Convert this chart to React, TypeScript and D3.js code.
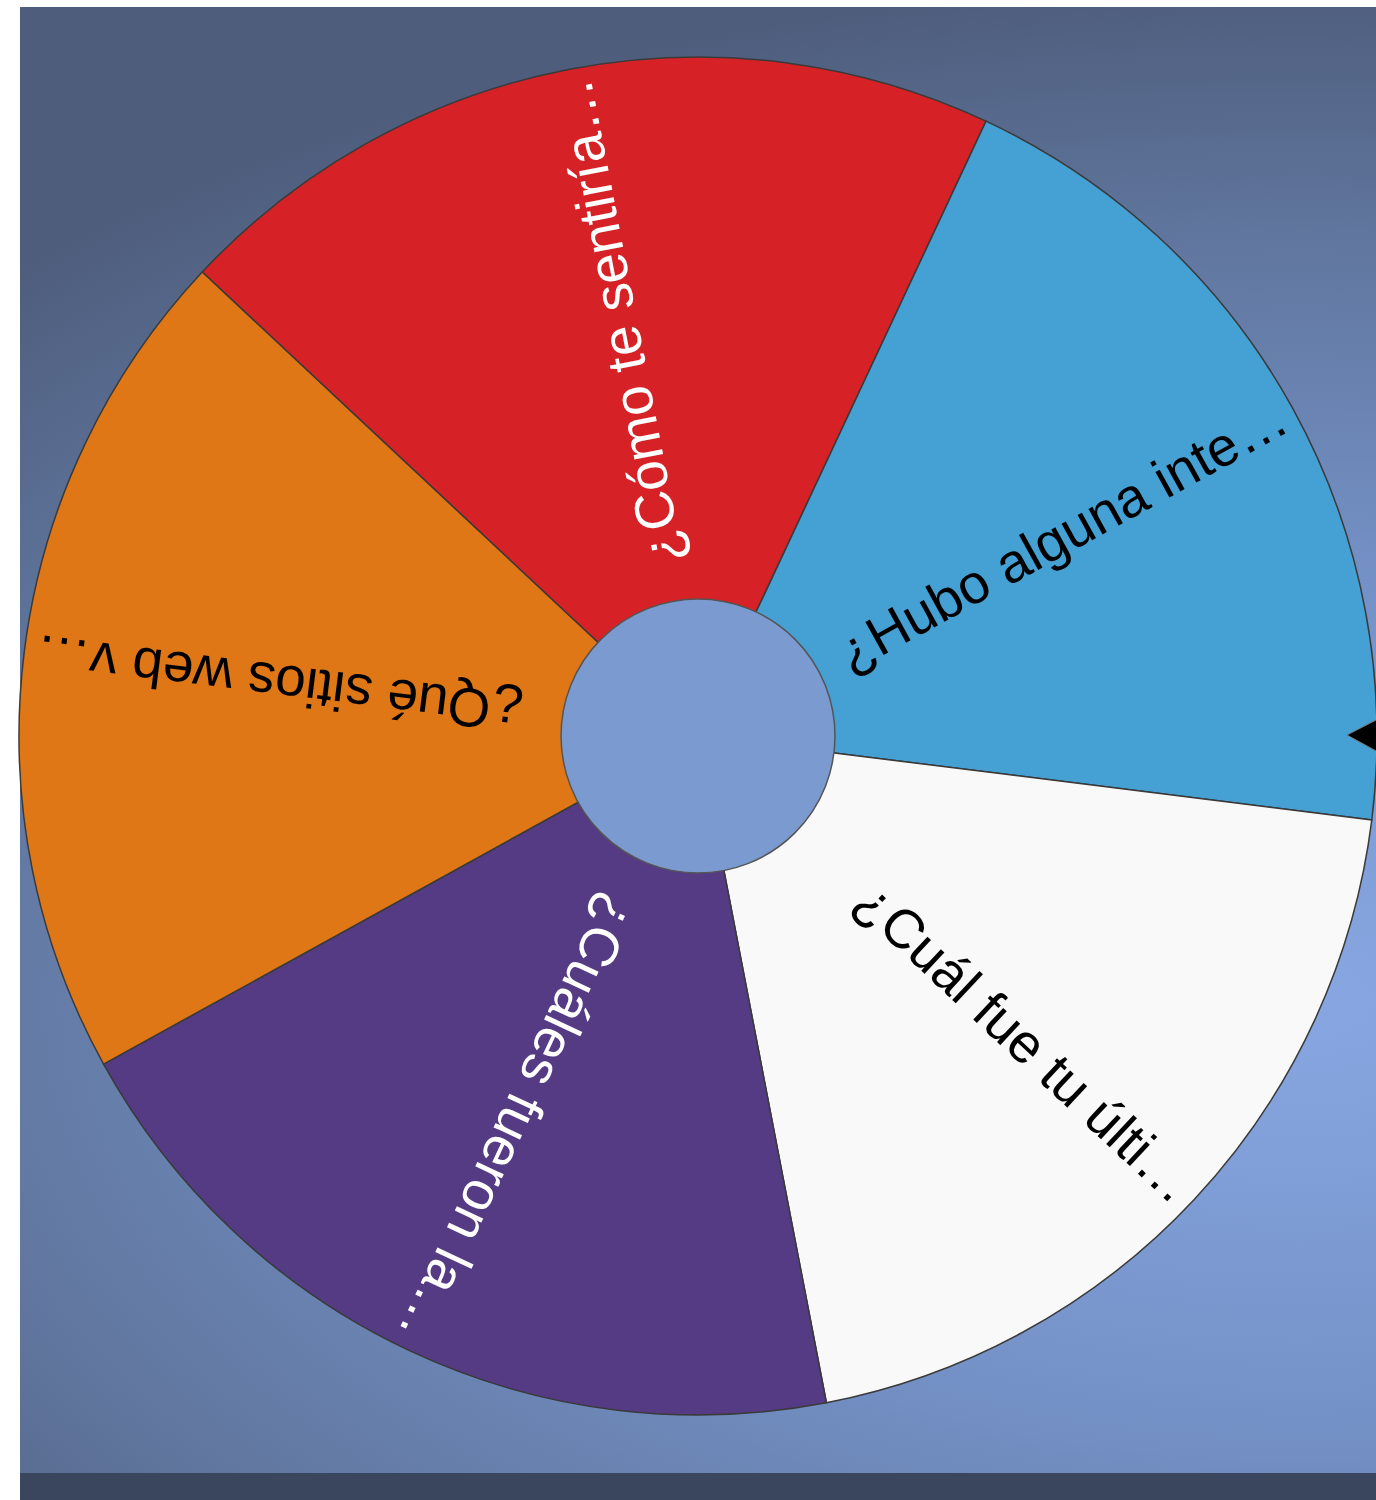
import * as d3 from "d3";

// wheel segments, clockwise from the red one
const questions = [
  "¿Cómo te sentiría…",
  "¿Hubo alguna inte…",
  "¿Cuál fue tu últi…",
  "¿Cuáles fueron la…",
  "¿Qué sitios web v…",
];
const weights = [1, 1, 1, 1, 1];
const fills = ["#d62226", "#45a0d3", "#f9f9f9", "#553b84", "#e07716"];
const textFills = ["#ffffff", "#000000", "#000000", "#ffffff", "#000000"];

const W = 1376;
const H = 1500;
const cx = 698;
const cy = 736;
const outerR = 679;
const hubR = 137;
const labelR = 668;
const startDeg = -46.9;

const App = () => {
  const start = (startDeg * Math.PI) / 180;
  const pie = d3
    .pie<number>()
    .sort(null)
    .value((d) => d)
    .startAngle(start)
    .endAngle(start + 2 * Math.PI);
  const arcs = pie(weights);
  const arc = d3.arc<d3.PieArcDatum<number>>().innerRadius(0).outerRadius(outerR);

  return (
    <svg
      width={W}
      height={H}
      style={{ position: "absolute", left: 0, top: 0, display: "block" }}
    >
      <defs>
        <radialGradient
          id="bg"
          gradientUnits="userSpaceOnUse"
          cx={1300}
          cy={1000}
          r={1850}
          gradientTransform="translate(1300,1000) scale(1,0.55) translate(-1300,-1000)"
        >
          <stop offset="0" stopColor="#88a7e2" />
          <stop offset="0.4" stopColor="#7592c8" />
          <stop offset="0.75" stopColor="#60769e" />
          <stop offset="1" stopColor="#4e5d7c" />
        </radialGradient>
      </defs>
      <rect x={0} y={0} width={W} height={H} fill="#ffffff" />
      <rect x={20} y={7} width={W - 20} height={H - 7} fill="url(#bg)" />
      <rect x={20} y={1473} width={W - 20} height={H - 1473} fill="#39465e" />

      <g transform={`translate(${cx},${cy})`}>
        {arcs.map((a, i) => (
          <path
            key={"s" + i}
            d={arc(a) || ""}
            fill={fills[i]}
            stroke="#3a3a3a"
            strokeWidth={1.5}
          />
        ))}
        {arcs.map((a, i) => {
          const mid = ((a.startAngle + a.endAngle) / 2) * (180 / Math.PI);
          return (
            <text
              key={"t" + i}
              transform={`rotate(${mid - 90})`}
              x={labelR}
              y={0}
              textAnchor="end"
              dominantBaseline="central"
              fontFamily="'Liberation Sans', Arial, sans-serif"
              fontSize={55}
              fill={textFills[i]}
            >
              {questions[i]}
            </text>
          );
        })}
        <circle r={hubR} fill="#7b9bd0" stroke="#555" strokeWidth={1.5} />
      </g>

      <path
        d="M1347,735 L1378,719 L1378,752 Z"
        fill="#000000"
        stroke="#777"
        strokeWidth={1}
      />
    </svg>
  );
};

export default App;
